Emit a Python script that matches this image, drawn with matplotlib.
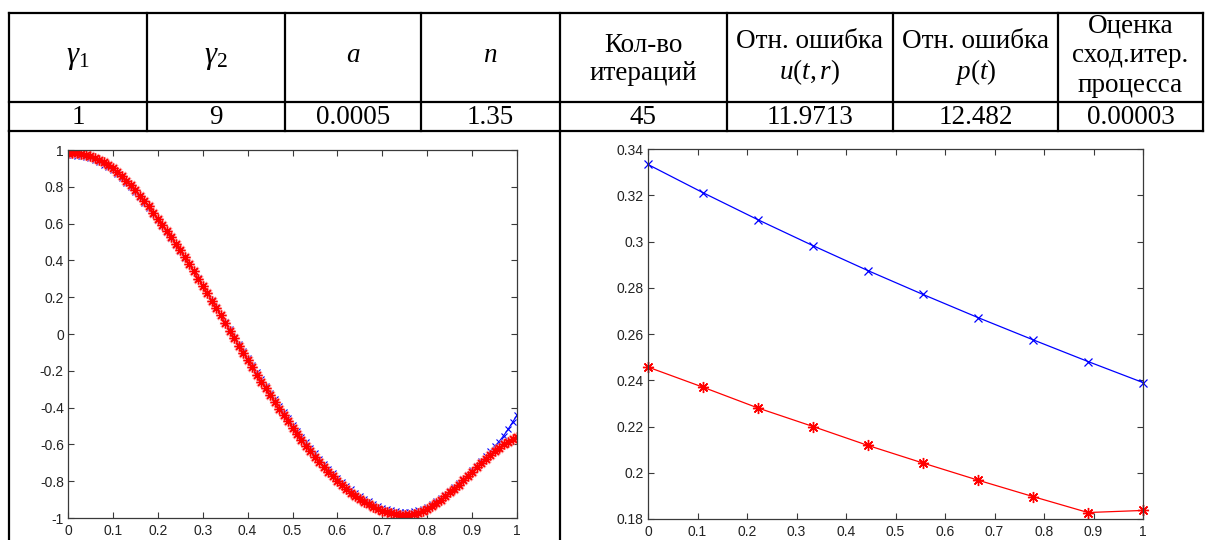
import numpy as np
import matplotlib
matplotlib.use('Agg')
import matplotlib.pyplot as plt

# ---------------- data ----------------
header_cells = [['$\\gamma_1$'], ['$\\gamma_2$'], ['$a$'], ['$n$'],
                ['Кол-во', 'итераций'],
                ['Отн. ошибка', '$u(t,r)$'],
                ['Отн. ошибка', '$p(t)$'],
                ['Оценка', 'сход.итер.', 'процесса']]
value_cells = ['1', '9', '0.0005', '1.35', '45', '11.9713', '12.482', '0.00003']

r_grid = np.linspace(0, 1, 101)
u_red = [0.985, 0.984, 0.982, 0.978, 0.973, 0.966, 0.957, 0.946, 0.933, 0.918,
         0.900, 0.880, 0.858, 0.834, 0.808, 0.781, 0.752, 0.722, 0.693, 0.660,
         0.627, 0.594, 0.560, 0.525, 0.490, 0.454, 0.417, 0.379, 0.340, 0.301,
         0.262, 0.222, 0.182, 0.142, 0.101, 0.060, 0.019, -0.022, -0.063, -0.103,
         -0.143, -0.182, -0.221, -0.259, -0.296, -0.333, -0.369, -0.405, -0.440, -0.475,
         -0.509, -0.543, -0.575, -0.607, -0.637, -0.667, -0.695, -0.722, -0.748, -0.773,
         -0.797, -0.820, -0.842, -0.862, -0.880, -0.897, -0.912, -0.926, -0.939, -0.950,
         -0.960, -0.968, -0.975, -0.980, -0.983, -0.984, -0.982, -0.978, -0.972, -0.963,
         -0.951, -0.937, -0.920, -0.902, -0.882, -0.861, -0.840, -0.818, -0.795, -0.772,
         -0.749, -0.725, -0.702, -0.679, -0.657, -0.636, -0.617, -0.600, -0.585, -0.572,
         -0.560]
u_blue = [0.973, 0.972, 0.970, 0.966, 0.961, 0.954, 0.945, 0.934, 0.921, 0.906,
          0.889, 0.869, 0.847, 0.823, 0.798, 0.771, 0.743, 0.713, 0.683, 0.651,
          0.619, 0.587, 0.554, 0.520, 0.486, 0.451, 0.415, 0.378, 0.340, 0.302,
          0.263, 0.224, 0.185, 0.145, 0.105, 0.065, 0.025, -0.015, -0.055, -0.094,
          -0.133, -0.171, -0.209, -0.246, -0.283, -0.319, -0.355, -0.390, -0.425, -0.459,
          -0.493, -0.526, -0.558, -0.589, -0.620, -0.649, -0.678, -0.705, -0.731, -0.756,
          -0.780, -0.803, -0.824, -0.844, -0.863, -0.880, -0.896, -0.910, -0.922, -0.933,
          -0.943, -0.951, -0.957, -0.962, -0.965, -0.966, -0.965, -0.962, -0.957, -0.949,
          -0.938, -0.925, -0.910, -0.893, -0.874, -0.854, -0.833, -0.811, -0.788, -0.764,
          -0.740, -0.715, -0.690, -0.664, -0.638, -0.610, -0.585, -0.553, -0.518, -0.480,
          -0.440]

t_grid = np.linspace(0, 1, 10)
p_blue = [0.3333, 0.3211, 0.3094, 0.2982, 0.2874, 0.2771, 0.2671, 0.2575, 0.2481, 0.2390]
p_red = [0.2457, 0.2370, 0.2280, 0.2200, 0.2118, 0.2042, 0.1968, 0.1897, 0.1828, 0.1837]

left_xticks = [0, 0.1, 0.2, 0.3, 0.4, 0.5, 0.6, 0.7, 0.8, 0.9, 1]
left_xlabels = ['0', '0.1', '0.2', '0.3', '0.4', '0.5', '0.6', '0.7', '0.8', '0.9', '1']
left_yticks = [-1, -0.8, -0.6, -0.4, -0.2, 0, 0.2, 0.4, 0.6, 0.8, 1]
left_ylabels = ['-1', '-0.8', '-0.6', '-0.4', '-0.2', '0', '0.2', '0.4', '0.6', '0.8', '1']
right_yticks = [0.18, 0.2, 0.22, 0.24, 0.26, 0.28, 0.3, 0.32, 0.34]
right_ylabels = ['0.18', '0.2', '0.22', '0.24', '0.26', '0.28', '0.3', '0.32', '0.34']

# ---------------- figure ----------------
plt.rcParams['mathtext.fontset'] = 'custom'
plt.rcParams['mathtext.rm'] = 'Liberation Serif'
plt.rcParams['mathtext.it'] = 'Liberation Serif:italic'

W, H = 1208, 540
fig = plt.figure(figsize=(W / 100, H / 100), dpi=100)
fig.patch.set_facecolor('white')

# overlay axes in pixel coordinates for the table
ax0 = fig.add_axes([0, 0, 1, 1])
ax0.set_xlim(0, W)
ax0.set_ylim(H, 0)
ax0.axis('off')

col_edges = [9, 147, 285, 421, 560, 727, 893, 1058, 1203]
y_top, y_mid, y_bot = 13, 102, 131
lw = 1.6
ax0.plot([col_edges[0], col_edges[-1]], [y_top, y_top], color='k', lw=lw)
ax0.plot([col_edges[0], col_edges[-1]], [y_mid, y_mid], color='k', lw=lw)
ax0.plot([col_edges[0], col_edges[-1]], [y_bot, y_bot], color='k', lw=lw)
for xe in col_edges:
    ax0.plot([xe, xe], [y_top, y_bot], color='k', lw=lw)
for xe in [col_edges[0], 560]:
    ax0.plot([xe, xe], [y_bot, H + 5], color='k', lw=lw)

fs = 19.5
cell_lines_y = [[58], [58], [55], [55], [46, 73], [41, 72], [41, 72], [26, 56, 85]]
cell_fs = [22, 22, fs, fs, fs, fs, fs, fs]
for i, cell in enumerate(header_cells):
    xc = (col_edges[i] + col_edges[i + 1]) / 2
    for txt, yc in zip(cell, cell_lines_y[i]):
        ax0.text(xc, yc, txt, ha='center', va='center', fontsize=cell_fs[i],
                 family='Liberation Serif', color='k')
for i, txt in enumerate(value_cells):
    xc = (col_edges[i] + col_edges[i + 1]) / 2
    ax0.text(xc, 118, txt, ha='center', va='center', fontsize=fs,
             family='Liberation Serif', color='k')

axcol = '#3a3a3a'


def style(ax):
    for s in ax.spines.values():
        s.set_color(axcol)
        s.set_linewidth(0.9)
    ax.tick_params(direction='in', length=4, width=0.8, color=axcol,
                   top=True, right=True, labelsize=10, labelcolor='#222222')
    ax.tick_params(axis='x', pad=4)
    ax.tick_params(axis='y', pad=3)
    for lab in ax.get_xticklabels() + ax.get_yticklabels():
        lab.set_family('Liberation Sans')


ast = (8, 2, 0)

# left plot
ax1 = fig.add_axes([68 / W, 1 - 518 / H, 449 / W, 368 / H])
ax1.plot(r_grid, u_blue, color='b', lw=0.8, marker='x', ms=4, mew=0.8)
ax1.plot(r_grid, u_red, color=(1, 0.6, 0.6), lw=0, marker=ast, ms=8, mew=2.2, alpha=0.6)
ax1.plot(r_grid, u_red, color='r', lw=0.8, marker=ast, ms=7, mew=0.9)
ax1.set_xlim(0, 1)
ax1.set_ylim(-1, 1)
ax1.set_xticks(left_xticks)
ax1.set_xticklabels(left_xlabels)
ax1.set_yticks(left_yticks)
ax1.set_yticklabels(left_ylabels)
style(ax1)

# right plot
ax2 = fig.add_axes([648 / W, 1 - 519 / H, 495 / W, 370 / H])
ax2.plot(t_grid, p_blue, color='b', lw=0.9, marker='x', ms=6, mew=0.9, clip_on=False)
ax2.plot(t_grid, p_red, color='r', lw=0.9, marker=ast, ms=8, mew=1.0, clip_on=False)
ax2.set_xlim(0, 1)
ax2.set_ylim(0.18, 0.34)
ax2.set_xticks(left_xticks)
ax2.set_xticklabels(left_xlabels)
ax2.set_yticks(right_yticks)
ax2.set_yticklabels(right_ylabels)
style(ax2)

fig.savefig('out.png', dpi=100, facecolor='white')
